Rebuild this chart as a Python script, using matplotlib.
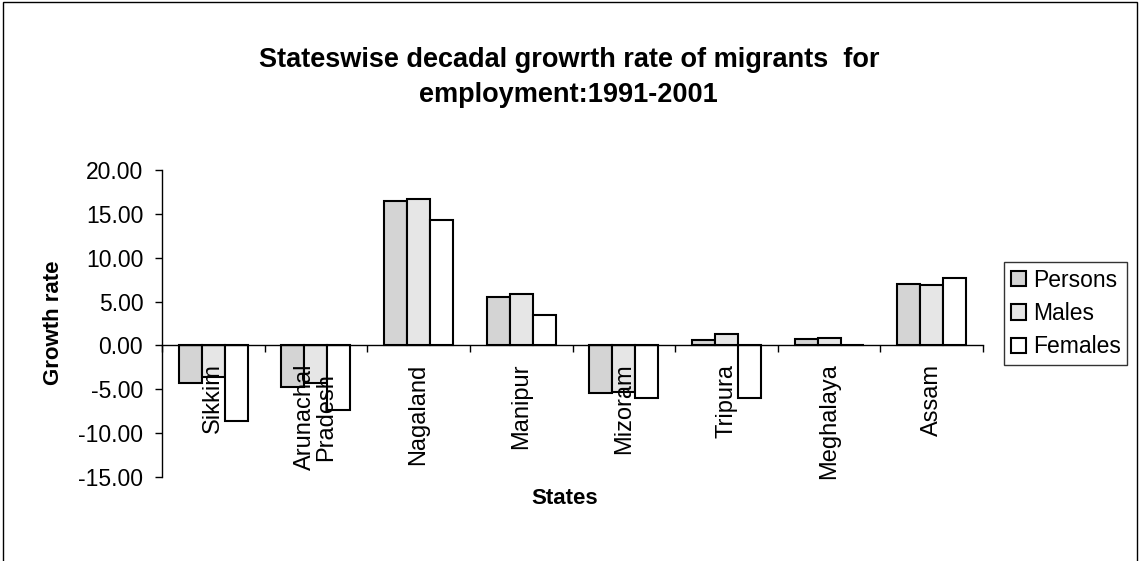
import numpy as np
import matplotlib
matplotlib.use("Agg")
import matplotlib.pyplot as plt
from matplotlib.patches import Rectangle

plt.rcParams['font.family'] = ['Liberation Sans', 'DejaVu Sans']

states = ['Sikkim', 'Arunachal\nPradesh', 'Nagaland', 'Manipur', 'Mizoram',
          'Tripura', 'Meghalaya', 'Assam']
persons = [-4.33, -4.75, 16.45, 5.5, -5.47, 0.65, 0.72, 6.95]
males = [-3.6, -4.26, 16.75, 5.9, -5.3, 1.33, 0.83, 6.9]
females = [-8.6, -7.4, 14.3, 3.45, -5.97, -5.97, 0.05, 7.64]
series = ['Persons', 'Males', 'Females']
fills = ['#d4d4d4', '#e6e6e6', 'white']

fig = plt.figure(figsize=(11.4, 5.61), dpi=100)
ax = fig.add_axes([0.1421, 0.1497, 0.7202, 0.5472])

x = np.arange(len(states))
w = 0.224
for i, (vals, name, fc) in enumerate(zip([persons, males, females], series, fills)):
    ax.bar(x + (i - 1) * w, vals, w, color=fc, edgecolor='black',
           linewidth=1.5, label=name)

ax.set_xlim(-0.5, len(states) - 0.5)
ax.set_ylim(-15, 20)
ax.set_yticks(np.arange(-15, 21, 5))
ax.set_yticklabels(['%.2f' % v for v in np.arange(-15, 21, 5)], fontsize=16.5)
ax.tick_params(axis='y', direction='out', length=5, width=1, pad=8.5)

ax.spines['top'].set_visible(False)
ax.spines['right'].set_visible(False)
ax.spines['bottom'].set_position(('data', 0))
ax.spines['bottom'].set_linewidth(1)
ax.spines['left'].set_linewidth(1)

ax.set_xticks(np.arange(-0.5, len(states), 1))
ax.set_xticklabels([])
ax.tick_params(axis='x', which='major', direction='out', length=5, width=1)
ax.set_xticks(x, minor=True)
ax.set_xticklabels(states, minor=True, rotation=90, fontsize=17,
                   linespacing=0.95)
ax.tick_params(axis='x', which='minor', length=0, pad=13)

fig.text(0.499, 0.862, 'Stateswise decadal growrth rate of migrants  for\nemployment:1991-2001',
         ha='center', va='center', fontsize=19.5, fontweight='bold',
         linespacing=1.45)
fig.text(0.047, 0.424, 'Growth rate', rotation=90, ha='center', va='center',
         fontsize=16, fontweight='bold')
fig.text(0.4956, 0.112, 'States', ha='center', va='center', fontsize=16,
         fontweight='bold')

leg = fig.legend(loc='upper left', bbox_to_anchor=(0.8807, 0.533), fontsize=16.5,
                 frameon=True, fancybox=False, edgecolor='black',
                 handlelength=0.65, handleheight=0.65, handletextpad=0.3,
                 borderpad=0.3, labelspacing=0.45, borderaxespad=0)
leg.get_frame().set_linewidth(1)

fig.patches.append(Rectangle((0.003, -0.01), 0.994, 1.006, transform=fig.transFigure,
                             fill=False, edgecolor='black', linewidth=1))

fig.savefig('out.png', dpi=100)
